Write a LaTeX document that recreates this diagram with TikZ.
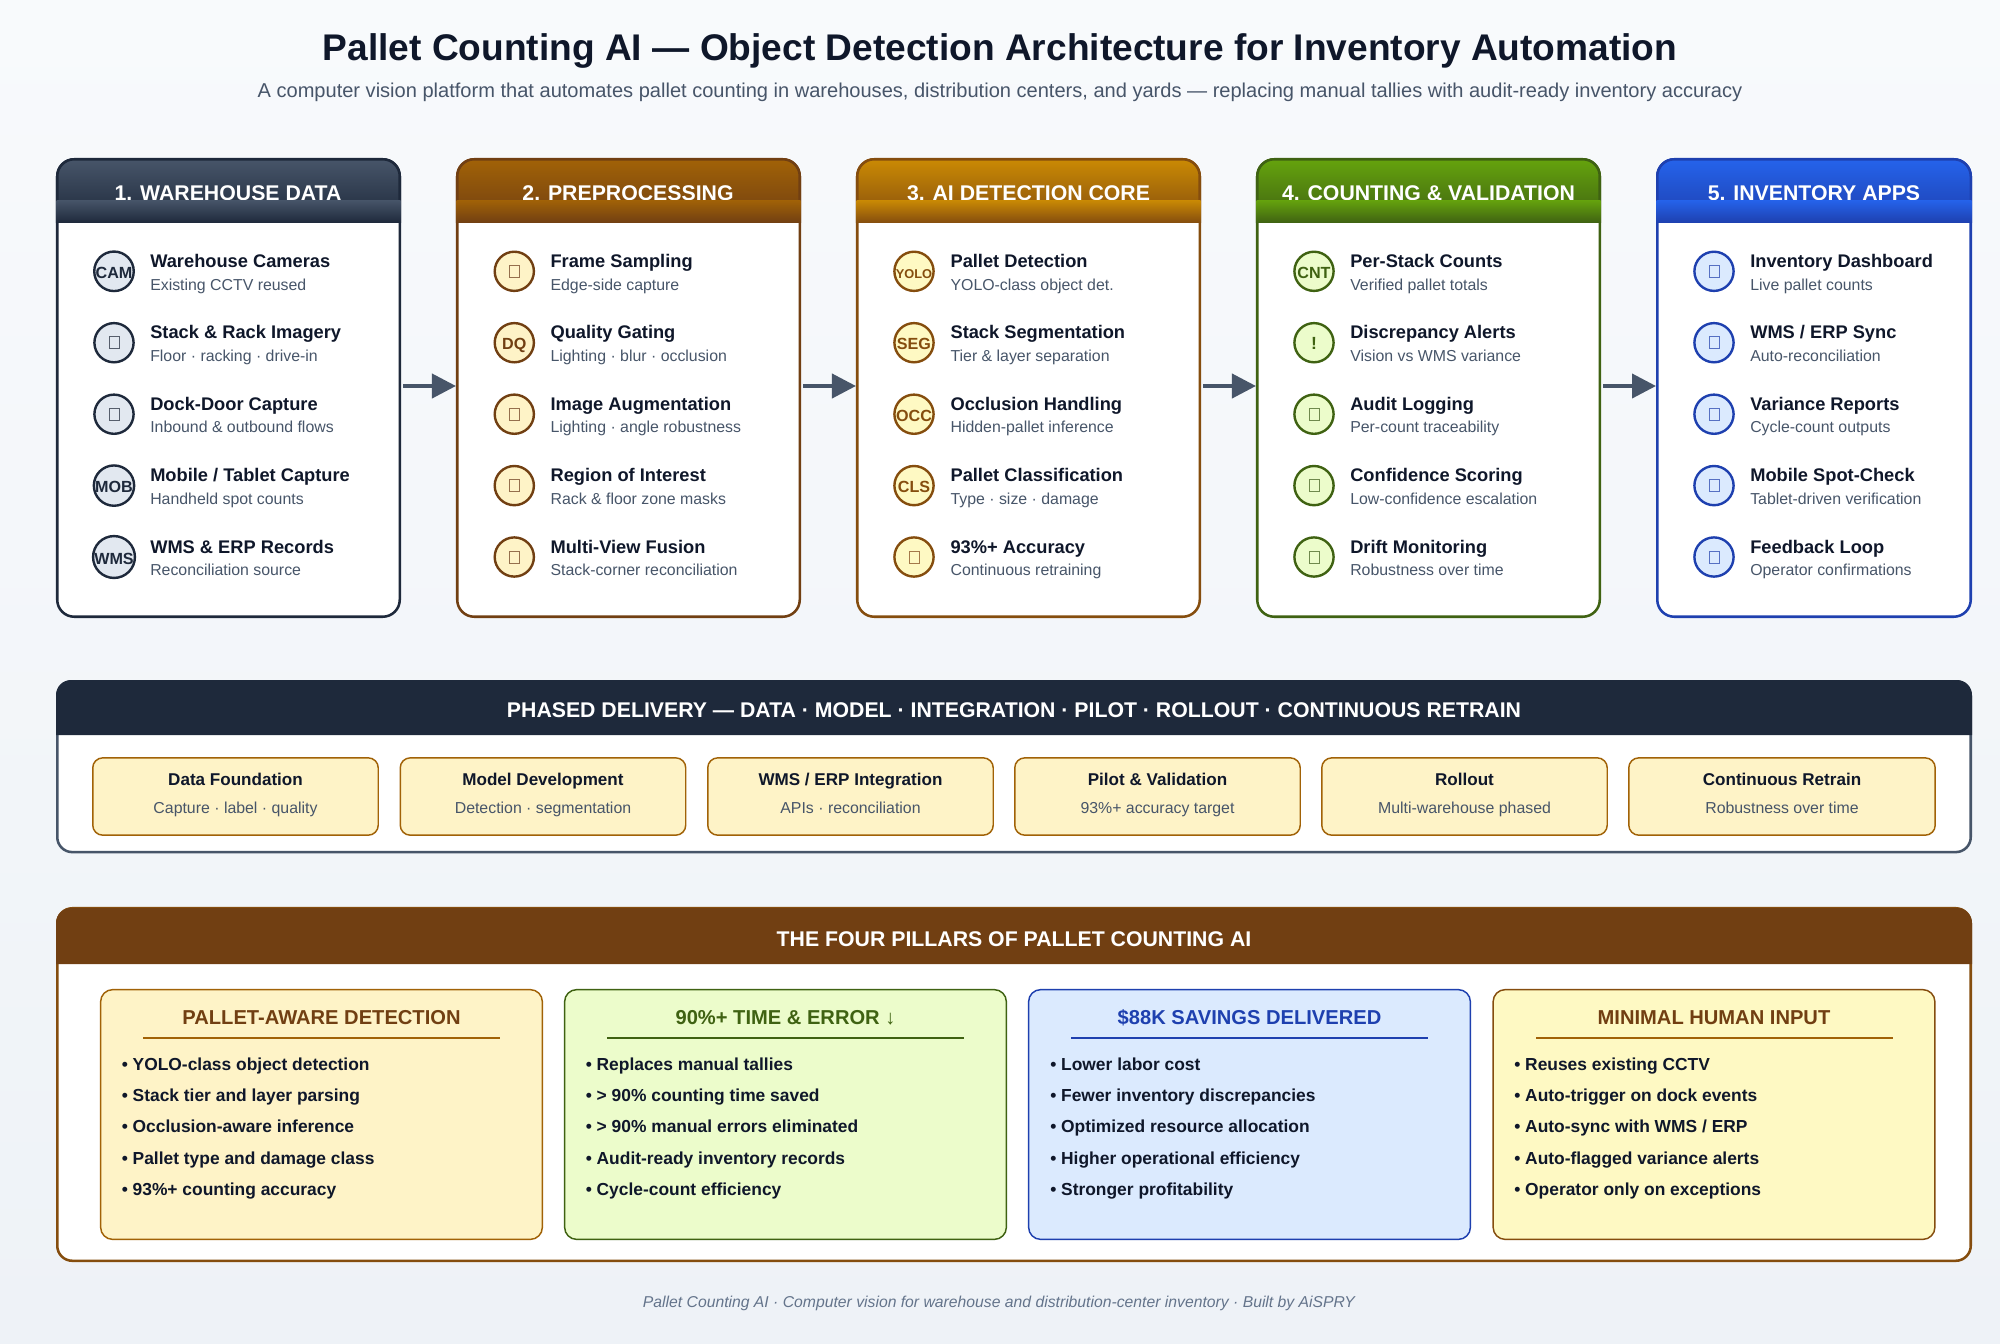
\documentclass[tikz,border=0pt]{standalone}
\usepackage{fontspec}
\setmainfont{Liberation Sans}
\usetikzlibrary{arrows.meta,positioning,calc}

\definecolor{pagetop}{HTML}{F8FAFC}
\definecolor{pagebot}{HTML}{EEF2F7}
\definecolor{ink}{HTML}{0F172A}
\definecolor{slatedark}{HTML}{1E293B}
\definecolor{slatemid}{HTML}{475569}
\definecolor{slatesoft}{HTML}{64748B}
\definecolor{slatefill}{HTML}{E2E8F0}
\definecolor{browndark}{HTML}{713F12}
\definecolor{brownmid}{HTML}{854D0E}
\definecolor{ambermid}{HTML}{A16207}
\definecolor{ambertop}{HTML}{CA8A04}
\definecolor{amberfill}{HTML}{FEF3C7}
\definecolor{yellowfill}{HTML}{FEF9C3}
\definecolor{greentop}{HTML}{65A30D}
\definecolor{greendark}{HTML}{3F6212}
\definecolor{greenfill}{HTML}{ECFCCB}
\definecolor{bluetop}{HTML}{2563EB}
\definecolor{bluedark}{HTML}{1E40AF}
\definecolor{bluefill}{HTML}{DBEAFE}

\begin{document}
\begin{tikzpicture}[
    x=0.75pt, y=-0.75pt,
    panel/.style={rectangle, fill=white, line width=1.9pt, rounded corners=12.75pt, inner sep=0pt, minimum height=343.1pt},
    head/.style={font=\fontsize{15.95pt}{18pt}\selectfont\bfseries, text=white, anchor=base, inner sep=0pt},
    icon/.style={circle, line width=1.8pt, minimum size=29.4pt, inner sep=0pt, text height=10.9pt, text depth=0pt, font=\fontsize{12.1pt}{14pt}\selectfont\bfseries},
    dataicon/.style={icon, draw=slatedark, fill=slatefill, text=slatedark},
    preicon/.style={icon, draw=browndark, fill=amberfill, text=browndark},
    coreicon/.style={icon, draw=brownmid, fill=yellowfill, text=brownmid},
    valicon/.style={icon, draw=greendark, fill=greenfill, text=greendark},
    appicon/.style={icon, draw=bluedark, fill=bluefill, text=bluedark},
    tofu/.style={rectangle, draw=#1, line width=0.55pt, minimum width=7.4pt, minimum height=9pt, inner sep=0pt},
    item/.style={anchor=base west, inner sep=0pt, text=ink, font=\fontsize{13.7pt}{16pt}\selectfont\bfseries},
    sub/.style={anchor=base west, inner sep=0pt, text=slatemid, font=\fontsize{11.9pt}{14pt}\selectfont},
    flow/.style={-{Triangle[length=18pt,width=18pt]}, line width=3pt, draw=slatemid, shorten <=1.5pt},
    phase/.style={rectangle, draw=ambermid, fill=amberfill, line width=1.1pt, rounded corners=7.5pt, inner sep=0pt, minimum height=58pt},
    phasetitle/.style={anchor=base, inner sep=0pt, text=ink, font=\fontsize{12.8pt}{15pt}\selectfont\bfseries},
    phasesub/.style={anchor=base, inner sep=0pt, text=slatemid, font=\fontsize{11.9pt}{14pt}\selectfont},
    pillar/.style={rectangle, line width=1.1pt, rounded corners=9pt, inner sep=0pt, minimum width=331.3pt, minimum height=187.3pt},
    pillartitle/.style={anchor=base, inner sep=0pt, font=\fontsize{15.1pt}{18pt}\selectfont\bfseries},
    point/.style={anchor=base west, inner sep=0pt, text=ink, font=\fontsize{13.05pt}{15pt}\selectfont\bfseries}
]

% Page background
\shade[top color=pagetop, bottom color=pagebot] (0, 0) rectangle (2000, 1343);
\useasboundingbox (0, 0) rectangle (2000, 1343);

% Title
\node[anchor=base, inner sep=0pt, text=ink, font=\fontsize{27.83pt}{32pt}\selectfont\bfseries] (maintitle) at (1000, 60) {Pallet Counting AI — Object Detection Architecture for Inventory Automation};
\node[anchor=base, inner sep=0pt, text=slatemid, font=\fontsize{15.04pt}{18pt}\selectfont] (subtitle) at (1000, 97) {A computer vision platform that automates pallet counting in warehouses, distribution centers, and yards — replacing manual tallies with audit-ready inventory accuracy};

% Panel 1: warehouse data
\node[panel, draw=slatedark, minimum width=256.9pt] (panel1) at (228.5, 388) {};
\shadedraw[top color=slatemid, bottom color=slatedark, draw=slatedark, line width=1.9pt] (57.25, 221.5) [rounded corners=12.75pt] -- (57.25, 159.25) -- (399.75, 159.25) [sharp corners] -- (399.75, 221.5) -- cycle;
\node[head] (head1) at (228, 200) {1. WAREHOUSE DATA};
\shade[top color=slatemid, bottom color=slatedark] (56.5, 200) rectangle (400.5, 222.7);

\node[dataicon] (icon11) at (114, 271.3) {CAM};
\node[item] (title11) at (150, 267.5) {Warehouse Cameras};
\node[sub] (sub11) at (150, 290) {Existing CCTV reused};
\node[dataicon] (icon12) at (114, 342.7) {};
\node[tofu=slatedark!75] (box12) at (icon12) {};
\node[item] (title12) at (150, 338.7) {Stack \& Rack Imagery};
\node[sub] (sub12) at (150, 361.4) {Floor · racking · drive-in};
\node[dataicon] (icon13) at (114, 414.2) {};
\node[tofu=slatedark!75] (box13) at (icon13) {};
\node[item] (title13) at (150, 410.2) {Dock-Door Capture};
\node[sub] (sub13) at (150, 432.8) {Inbound \& outbound flows};
\node[dataicon] (icon14) at (114, 485.6) {MOB};
\node[item] (title14) at (150, 481.7) {Mobile / Tablet Capture};
\node[sub] (sub14) at (150, 504.2) {Handheld spot counts};
\node[dataicon] (icon15) at (114, 557) {WMS};
\node[item] (title15) at (150, 553.1) {WMS \& ERP Records};
\node[sub] (sub15) at (150, 575.7) {Reconciliation source};

% Panel 2: preprocessing
\node[panel, draw=browndark, minimum width=256.9pt] (panel2) at (628.5, 388) {};
\shadedraw[top color=ambermid, bottom color=browndark, draw=browndark, line width=1.9pt] (457.25, 221.5) [rounded corners=12.75pt] -- (457.25, 159.25) -- (799.75, 159.25) [sharp corners] -- (799.75, 221.5) -- cycle;
\node[head] (head2) at (628, 200) {2. PREPROCESSING};
\shade[top color=ambermid, bottom color=browndark] (456.5, 200) rectangle (800.5, 222.7);

\node[preicon] (icon21) at (514.3, 271.3) {};
\node[tofu=browndark!75] (box21) at (icon21) {};
\node[item] (title21) at (550.3, 267.5) {Frame Sampling};
\node[sub] (sub21) at (550.3, 290) {Edge-side capture};
\node[preicon] (icon22) at (514.3, 342.7) {DQ};
\node[item] (title22) at (550.3, 338.7) {Quality Gating};
\node[sub] (sub22) at (550.3, 361.4) {Lighting · blur · occlusion};
\node[preicon] (icon23) at (514.3, 414.2) {};
\node[tofu=browndark!75] (box23) at (icon23) {};
\node[item] (title23) at (550.3, 410.2) {Image Augmentation};
\node[sub] (sub23) at (550.3, 432.8) {Lighting · angle robustness};
\node[preicon] (icon24) at (514.3, 485.6) {};
\node[tofu=browndark!75] (box24) at (icon24) {};
\node[item] (title24) at (550.3, 481.7) {Region of Interest};
\node[sub] (sub24) at (550.3, 504.2) {Rack \& floor zone masks};
\node[preicon] (icon25) at (514.3, 557) {};
\node[tofu=browndark!75] (box25) at (icon25) {};
\node[item] (title25) at (550.3, 553.1) {Multi-View Fusion};
\node[sub] (sub25) at (550.3, 575.7) {Stack-corner reconciliation};

% Panel 3: detection core
\node[panel, draw=brownmid, minimum width=256.9pt] (panel3) at (1028.5, 388) {};
\shadedraw[top color=ambertop, bottom color=brownmid, draw=brownmid, line width=1.9pt] (857.25, 221.5) [rounded corners=12.75pt] -- (857.25, 159.25) -- (1199.75, 159.25) [sharp corners] -- (1199.75, 221.5) -- cycle;
\node[head] (head3) at (1028.5, 200) {3. AI DETECTION CORE};
\shade[top color=ambertop, bottom color=brownmid] (856.5, 200) rectangle (1200.5, 222.7);

\node[coreicon, font=\fontsize{9.6pt}{11pt}\selectfont\bfseries] (icon31) at (914, 271.3) {YOLO};
\node[item] (title31) at (950.3, 267.5) {Pallet Detection};
\node[sub] (sub31) at (950.3, 290) {YOLO-class object det.};
\node[coreicon] (icon32) at (914, 342.7) {SEG};
\node[item] (title32) at (950.3, 338.7) {Stack Segmentation};
\node[sub] (sub32) at (950.3, 361.4) {Tier \& layer separation};
\node[coreicon] (icon33) at (914, 414.2) {OCC};
\node[item] (title33) at (950.3, 410.2) {Occlusion Handling};
\node[sub] (sub33) at (950.3, 432.8) {Hidden-pallet inference};
\node[coreicon] (icon34) at (914, 485.6) {CLS};
\node[item] (title34) at (950.3, 481.7) {Pallet Classification};
\node[sub] (sub34) at (950.3, 504.2) {Type · size · damage};
\node[coreicon] (icon35) at (914, 557) {};
\node[tofu=brownmid!75] (box35) at (icon35) {};
\node[item] (title35) at (950.3, 553.1) {93\%+ Accuracy};
\node[sub] (sub35) at (950.3, 575.7) {Continuous retraining};

% Panel 4: counting and validation
\node[panel, draw=greendark, minimum width=256.9pt] (panel4) at (1428.5, 388) {};
\shadedraw[top color=greentop, bottom color=greendark, draw=greendark, line width=1.9pt] (1257.25, 221.5) [rounded corners=12.75pt] -- (1257.25, 159.25) -- (1599.75, 159.25) [sharp corners] -- (1599.75, 221.5) -- cycle;
\node[head] (head4) at (1428.5, 200) {4. COUNTING \& VALIDATION};
\shade[top color=greentop, bottom color=greendark] (1256.5, 200) rectangle (1600.5, 222.7);

\node[valicon] (icon41) at (1314, 271.3) {CNT};
\node[item] (title41) at (1350, 267.5) {Per-Stack Counts};
\node[sub] (sub41) at (1350, 290) {Verified pallet totals};
\node[valicon, font=\fontsize{13.2pt}{15pt}\selectfont\bfseries] (icon42) at (1314, 342.7) {!};
\node[item] (title42) at (1350, 338.7) {Discrepancy Alerts};
\node[sub] (sub42) at (1350, 361.4) {Vision vs WMS variance};
\node[valicon] (icon43) at (1314, 414.2) {};
\node[tofu=greendark!75] (box43) at (icon43) {};
\node[item] (title43) at (1350, 410.2) {Audit Logging};
\node[sub] (sub43) at (1350, 432.8) {Per-count traceability};
\node[valicon] (icon44) at (1314, 485.6) {};
\node[tofu=greendark!75] (box44) at (icon44) {};
\node[item] (title44) at (1350, 481.7) {Confidence Scoring};
\node[sub] (sub44) at (1350, 504.2) {Low-confidence escalation};
\node[valicon] (icon45) at (1314, 557) {};
\node[tofu=greendark!75] (box45) at (icon45) {};
\node[item] (title45) at (1350, 553.1) {Drift Monitoring};
\node[sub] (sub45) at (1350, 575.7) {Robustness over time};

% Panel 5: inventory apps
\node[panel, draw=bluedark, minimum width=235.1pt] (panel5) at (1814, 388) {};
\shadedraw[top color=bluetop, bottom color=bluedark, draw=bluedark, line width=1.9pt] (1657.25, 221.5) [rounded corners=12.75pt] -- (1657.25, 159.25) -- (1970.75, 159.25) [sharp corners] -- (1970.75, 221.5) -- cycle;
\node[head] (head5) at (1814, 200) {5. INVENTORY APPS};
\shade[top color=bluetop, bottom color=bluedark] (1656.5, 200) rectangle (1971.5, 222.7);

\node[appicon] (icon51) at (1714, 271.3) {};
\node[tofu=bluedark!75] (box51) at (icon51) {};
\node[item] (title51) at (1750, 267.5) {Inventory Dashboard};
\node[sub] (sub51) at (1750, 290) {Live pallet counts};
\node[appicon] (icon52) at (1714, 342.7) {};
\node[tofu=bluedark!75] (box52) at (icon52) {};
\node[item] (title52) at (1750, 338.7) {WMS / ERP Sync};
\node[sub] (sub52) at (1750, 361.4) {Auto-reconciliation};
\node[appicon] (icon53) at (1714, 414.2) {};
\node[tofu=bluedark!75] (box53) at (icon53) {};
\node[item] (title53) at (1750, 410.2) {Variance Reports};
\node[sub] (sub53) at (1750, 432.8) {Cycle-count outputs};
\node[appicon] (icon54) at (1714, 485.6) {};
\node[tofu=bluedark!75] (box54) at (icon54) {};
\node[item] (title54) at (1750, 481.7) {Mobile Spot-Check};
\node[sub] (sub54) at (1750, 504.2) {Tablet-driven verification};
\node[appicon] (icon55) at (1714, 557) {};
\node[tofu=bluedark!75] (box55) at (icon55) {};
\node[item] (title55) at (1750, 553.1) {Feedback Loop};
\node[sub] (sub55) at (1750, 575.7) {Operator confirmations};

% Arrows between panels
\draw[flow] ([yshift=1.5pt]panel1.east) -- ([yshift=1.5pt]panel2.west);
\draw[flow] ([yshift=1.5pt]panel2.east) -- ([yshift=1.5pt]panel3.west);
\draw[flow] ([yshift=1.5pt]panel3.east) -- ([yshift=1.5pt]panel4.west);
\draw[flow] ([yshift=1.5pt]panel4.east) -- ([yshift=1.5pt]panel5.west);

% Phased delivery band
\node[panel, draw=slatemid, rounded corners=11.25pt, minimum width=1435.1pt, minimum height=128.1pt] (delivery) at (1014, 766.7) {};
\fill[slatedark] (56, 735) [rounded corners=11.25pt] -- (56, 680) -- (1972, 680) [sharp corners] -- (1972, 735) -- cycle;
\node[head] (deliveryhead) at (1014, 717.5) {PHASED DELIVERY — DATA · MODEL · INTEGRATION · PILOT · ROLLOUT · CONTINUOUS RETRAIN};

\node[phase, minimum width=214.1pt] (phase1) at (235.5, 796.5) {};
\node[phasetitle] (phasetitle1) at (235.5, 785.5) {Data Foundation};
\node[phasesub] (phasesub1) at (235.5, 813.2) {Capture · label · quality};
\node[phase, minimum width=214.1pt] (phase2) at (543, 796.5) {};
\node[phasetitle] (phasetitle2) at (543, 785.5) {Model Development};
\node[phasesub] (phasesub2) at (543, 813.2) {Detection · segmentation};
\node[phase, minimum width=214.1pt] (phase3) at (850.5, 796.5) {};
\node[phasetitle] (phasetitle3) at (850.5, 785.5) {WMS / ERP Integration};
\node[phasesub] (phasesub3) at (850.5, 813.2) {APIs · reconciliation};
\node[phase, minimum width=214.1pt] (phase4) at (1157.5, 796.5) {};
\node[phasetitle] (phasetitle4) at (1157.5, 785.5) {Pilot \& Validation};
\node[phasesub] (phasesub4) at (1157.5, 813.2) {93\%+ accuracy target};
\node[phase, minimum width=214.1pt] (phase5) at (1464.5, 796.5) {};
\node[phasetitle] (phasetitle5) at (1464.5, 785.5) {Rollout};
\node[phasesub] (phasesub5) at (1464.5, 813.2) {Multi-warehouse phased};
\node[phase, minimum width=229.8pt] (phase6) at (1782, 796.5) {};
\node[phasetitle] (phasetitle6) at (1782, 785.5) {Continuous Retrain};
\node[phasesub] (phasesub6) at (1782, 813.2) {Robustness over time};

% Four pillars band
\node[panel, draw=brownmid, rounded corners=11.25pt, minimum width=1435.1pt, minimum height=264.4pt] (pillars) at (1014, 1084.5) {};
\fill[browndark] (56, 964) [rounded corners=11.25pt] -- (56, 908) -- (1972, 908) [sharp corners] -- (1972, 964) -- cycle;
\node[head] (pillarshead) at (1014, 946) {THE FOUR PILLARS OF PALLET COUNTING AI};

% Pillar 1
\node[pillar, draw=ambermid, fill=amberfill] (pillar1) at (321.5, 1114.5) {};
\node[pillartitle, text=browndark] (pillartitle1) at (321.5, 1024) {PALLET-AWARE DETECTION};
\draw[ambermid, line width=1.2pt] (143, 1038) -- (500, 1038);
\node[point] (point11) at (121.5, 1070) {• YOLO-class object detection};
\node[point] (point12) at (121.5, 1101.4) {• Stack tier and layer parsing};
\node[point] (point13) at (121.5, 1132.8) {• Occlusion-aware inference};
\node[point] (point14) at (121.5, 1164.2) {• Pallet type and damage class};
\node[point] (point15) at (121.5, 1195.6) {• 93\%+ counting accuracy};

% Pillar 2
\node[pillar, draw=greendark, fill=greenfill] (pillar2) at (785.5, 1114.5) {};
\node[pillartitle, text=greendark] (pillartitle2) at (785.5, 1024) {90\%+ TIME \& ERROR ↓};
\draw[greendark, line width=1.2pt] (607, 1038) -- (964, 1038);
\node[point] (point21) at (585.5, 1070) {• Replaces manual tallies};
\node[point] (point22) at (585.5, 1101.4) {• > 90\% counting time saved};
\node[point] (point23) at (585.5, 1132.8) {• > 90\% manual errors eliminated};
\node[point] (point24) at (585.5, 1164.2) {• Audit-ready inventory records};
\node[point] (point25) at (585.5, 1195.6) {• Cycle-count efficiency};

% Pillar 3
\node[pillar, draw=bluedark, fill=bluefill] (pillar3) at (1249.5, 1114.5) {};
\node[pillartitle, text=bluedark] (pillartitle3) at (1249.5, 1024) {\$88K SAVINGS DELIVERED};
\draw[bluedark, line width=1.2pt] (1071, 1038) -- (1428, 1038);
\node[point] (point31) at (1050, 1070) {• Lower labor cost};
\node[point] (point32) at (1050, 1101.4) {• Fewer inventory discrepancies};
\node[point] (point33) at (1050, 1132.8) {• Optimized resource allocation};
\node[point] (point34) at (1050, 1164.2) {• Higher operational efficiency};
\node[point] (point35) at (1050, 1195.6) {• Stronger profitability};

% Pillar 4
\node[pillar, draw=brownmid, fill=yellowfill] (pillar4) at (1714, 1114.5) {};
\node[pillartitle, text=browndark] (pillartitle4) at (1714, 1024) {MINIMAL HUMAN INPUT};
\draw[ambermid, line width=1.2pt] (1536, 1038) -- (1893, 1038);
\node[point] (point41) at (1514, 1070) {• Reuses existing CCTV};
\node[point] (point42) at (1514, 1101.4) {• Auto-trigger on dock events};
\node[point] (point43) at (1514, 1132.8) {• Auto-sync with WMS / ERP};
\node[point] (point44) at (1514, 1164.2) {• Auto-flagged variance alerts};
\node[point] (point45) at (1514, 1195.6) {• Operator only on exceptions};

% Footer
\node[anchor=base, inner sep=0pt, text=slatesoft, font=\fontsize{11.8pt}{14pt}\selectfont\itshape] (footer) at (999, 1307) {Pallet Counting AI · Computer vision for warehouse and distribution-center inventory · Built by AiSPRY};

\end{tikzpicture}
\end{document}
